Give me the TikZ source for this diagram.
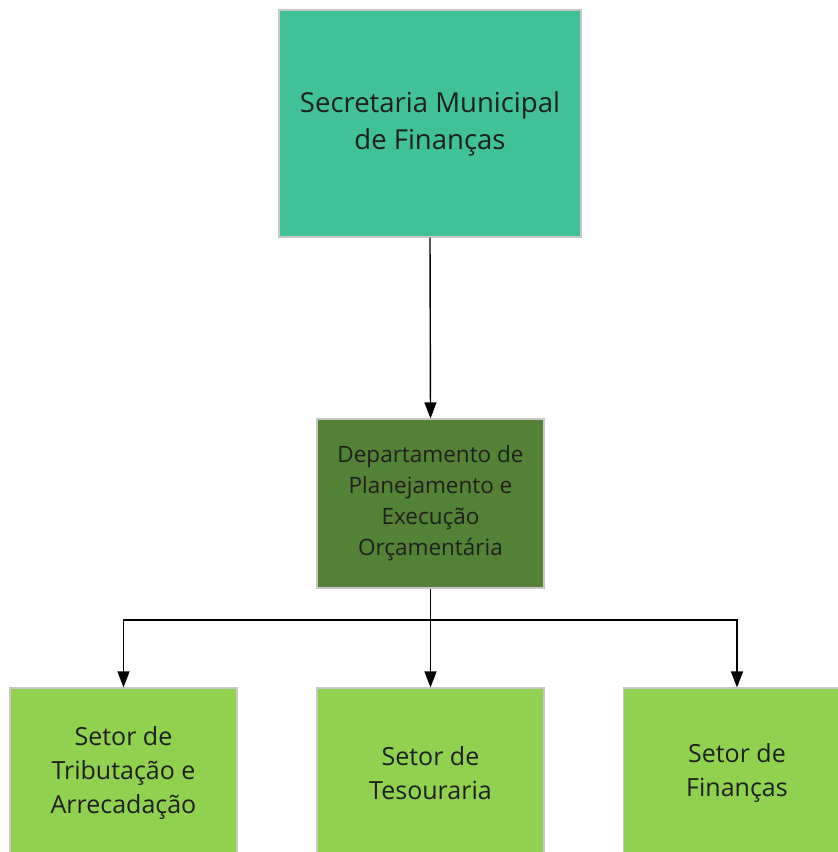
\documentclass[tikz,border=0pt]{standalone}
\usepackage{fontspec}
\setmainfont{Open Sans}
\usetikzlibrary{arrows.meta}
\definecolor{teal1}{HTML}{40C197}
\definecolor{dkgreen}{HTML}{538135}
\definecolor{ltgreen}{HTML}{92D050}
\definecolor{edge}{HTML}{C8C8C8}
\begin{document}
\begin{tikzpicture}[x=1pt,y=-1pt,
  box/.style={draw=edge,line width=1.2pt,inner sep=0pt,align=center,text=black!88},
  conn/.style={line width=1.4pt,-{Triangle[length=16pt,width=12pt]}}]
\useasboundingbox (0,0) rectangle (838,852);
\clip (0,0) rectangle (838,852);
\node[box,fill=teal1,minimum width=302pt,minimum height=227pt,font=\fontsize{27.5}{37}\selectfont] (sec) at (430,123.5) {Secretaria Municipal\\de Finanças};
\node[box,fill=dkgreen,minimum width=227pt,minimum height=169pt,font=\fontsize{22.5}{31}\selectfont] (dep) at (430.5,503.5) {Departamento de\\Planejamento e\\Execução\\Orçamentária};
\node[box,fill=ltgreen,minimum width=227pt,minimum height=170pt,font=\fontsize{25}{34}\selectfont] (s1) at (123.5,773) {Setor de\\Tributação e\\Arrecadação};
\node[box,fill=ltgreen,minimum width=227pt,minimum height=170pt,font=\fontsize{25}{34}\selectfont] (s2) at (430.5,773) {Setor de\\Tesouraria};
\node[box,fill=ltgreen,minimum width=227pt,minimum height=170pt,font=\fontsize{25}{34}\selectfont] (s3) at (737,773) {Setor de\\Finanças};
\coordinate (j) at (430,620);
\draw[conn] (sec.south) -- (dep.north);
\draw[conn] (dep.south) -- (s2.north);
\draw[conn] (j) -| (s1.north);
\draw[conn] (j) -| (s3.north);
\end{tikzpicture}
\end{document}
